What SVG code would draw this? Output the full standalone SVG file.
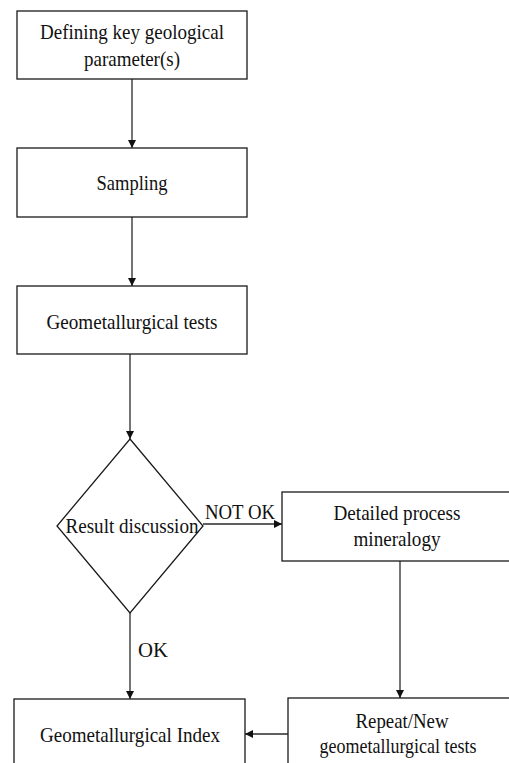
<svg xmlns="http://www.w3.org/2000/svg" width="509" height="763" viewBox="0 0 509 763">
<defs>
<style>
.box{fill:#fff;stroke:#1a1a1a;stroke-width:1.3}
.con{fill:none;stroke:#2a2a2a;stroke-width:1.3}
.t{font-family:"Liberation Serif","Times New Roman",serif;font-size:22px;fill:#111;text-anchor:middle}
</style>
<marker id="arr" viewBox="0 0 10 10" refX="10" refY="5" markerWidth="8" markerHeight="8" markerUnits="userSpaceOnUse" orient="auto">
<path d="M0,0 L10,5 L0,10 z" fill="#111"/>
</marker>
</defs>
<rect width="509" height="763" fill="#fff"/>
<g id="connectors">
<line class="con" x1="132" y1="79" x2="132" y2="148" marker-end="url(#arr)"/>
<line class="con" x1="132" y1="217" x2="132" y2="286" marker-end="url(#arr)"/>
<line class="con" x1="130" y1="354" x2="130" y2="439" marker-end="url(#arr)"/>
<line class="con" x1="203" y1="524" x2="282" y2="524" marker-end="url(#arr)"/>
<line class="con" x1="400" y1="561" x2="400" y2="698" marker-end="url(#arr)"/>
<line class="con" x1="288" y1="734" x2="245" y2="734" marker-end="url(#arr)"/>
<line class="con" x1="130" y1="613" x2="130" y2="699" marker-end="url(#arr)"/>
<text class="t" x="240" y="519" textLength="70" lengthAdjust="spacingAndGlyphs">NOT OK</text>
<text class="t" x="153" y="657" textLength="30" lengthAdjust="spacingAndGlyphs">OK</text>
</g>
<g id="n1">
<rect class="box" x="17" y="11" width="230" height="68"/>
<text class="t" x="132" y="39" textLength="184" lengthAdjust="spacingAndGlyphs">Defining key geological</text>
<text class="t" x="132" y="66" textLength="96" lengthAdjust="spacingAndGlyphs">parameter(s)</text>
</g>
<g id="n2">
<rect class="box" x="17" y="148" width="230" height="69"/>
<text class="t" x="132" y="190" textLength="71" lengthAdjust="spacingAndGlyphs">Sampling</text>
</g>
<g id="n3">
<rect class="box" x="17" y="286" width="230" height="68"/>
<text class="t" x="132" y="329" textLength="171" lengthAdjust="spacingAndGlyphs">Geometallurgical tests</text>
</g>
<g id="n4">
<polygon class="box" points="130,439 203,526 130,613 57,526"/>
<text class="t" x="132" y="533" textLength="133" lengthAdjust="spacingAndGlyphs">Result discussion</text>
</g>
<g id="n5">
<rect class="box" x="282" y="492" width="230" height="69"/>
<text class="t" x="397" y="520" textLength="127" lengthAdjust="spacingAndGlyphs">Detailed process</text>
<text class="t" x="397" y="546" textLength="87" lengthAdjust="spacingAndGlyphs">mineralogy</text>
</g>
<g id="n6">
<rect class="box" x="288" y="698" width="230" height="70"/>
<text class="t" x="402" y="728" textLength="93" lengthAdjust="spacingAndGlyphs">Repeat/New</text>
<text class="t" x="398" y="753" textLength="157" lengthAdjust="spacingAndGlyphs">geometallurgical tests</text>
</g>
<g id="n7">
<rect class="box" x="14" y="699" width="231" height="70"/>
<text class="t" x="130" y="742" textLength="180" lengthAdjust="spacingAndGlyphs">Geometallurgical Index</text>
</g>
</svg>
